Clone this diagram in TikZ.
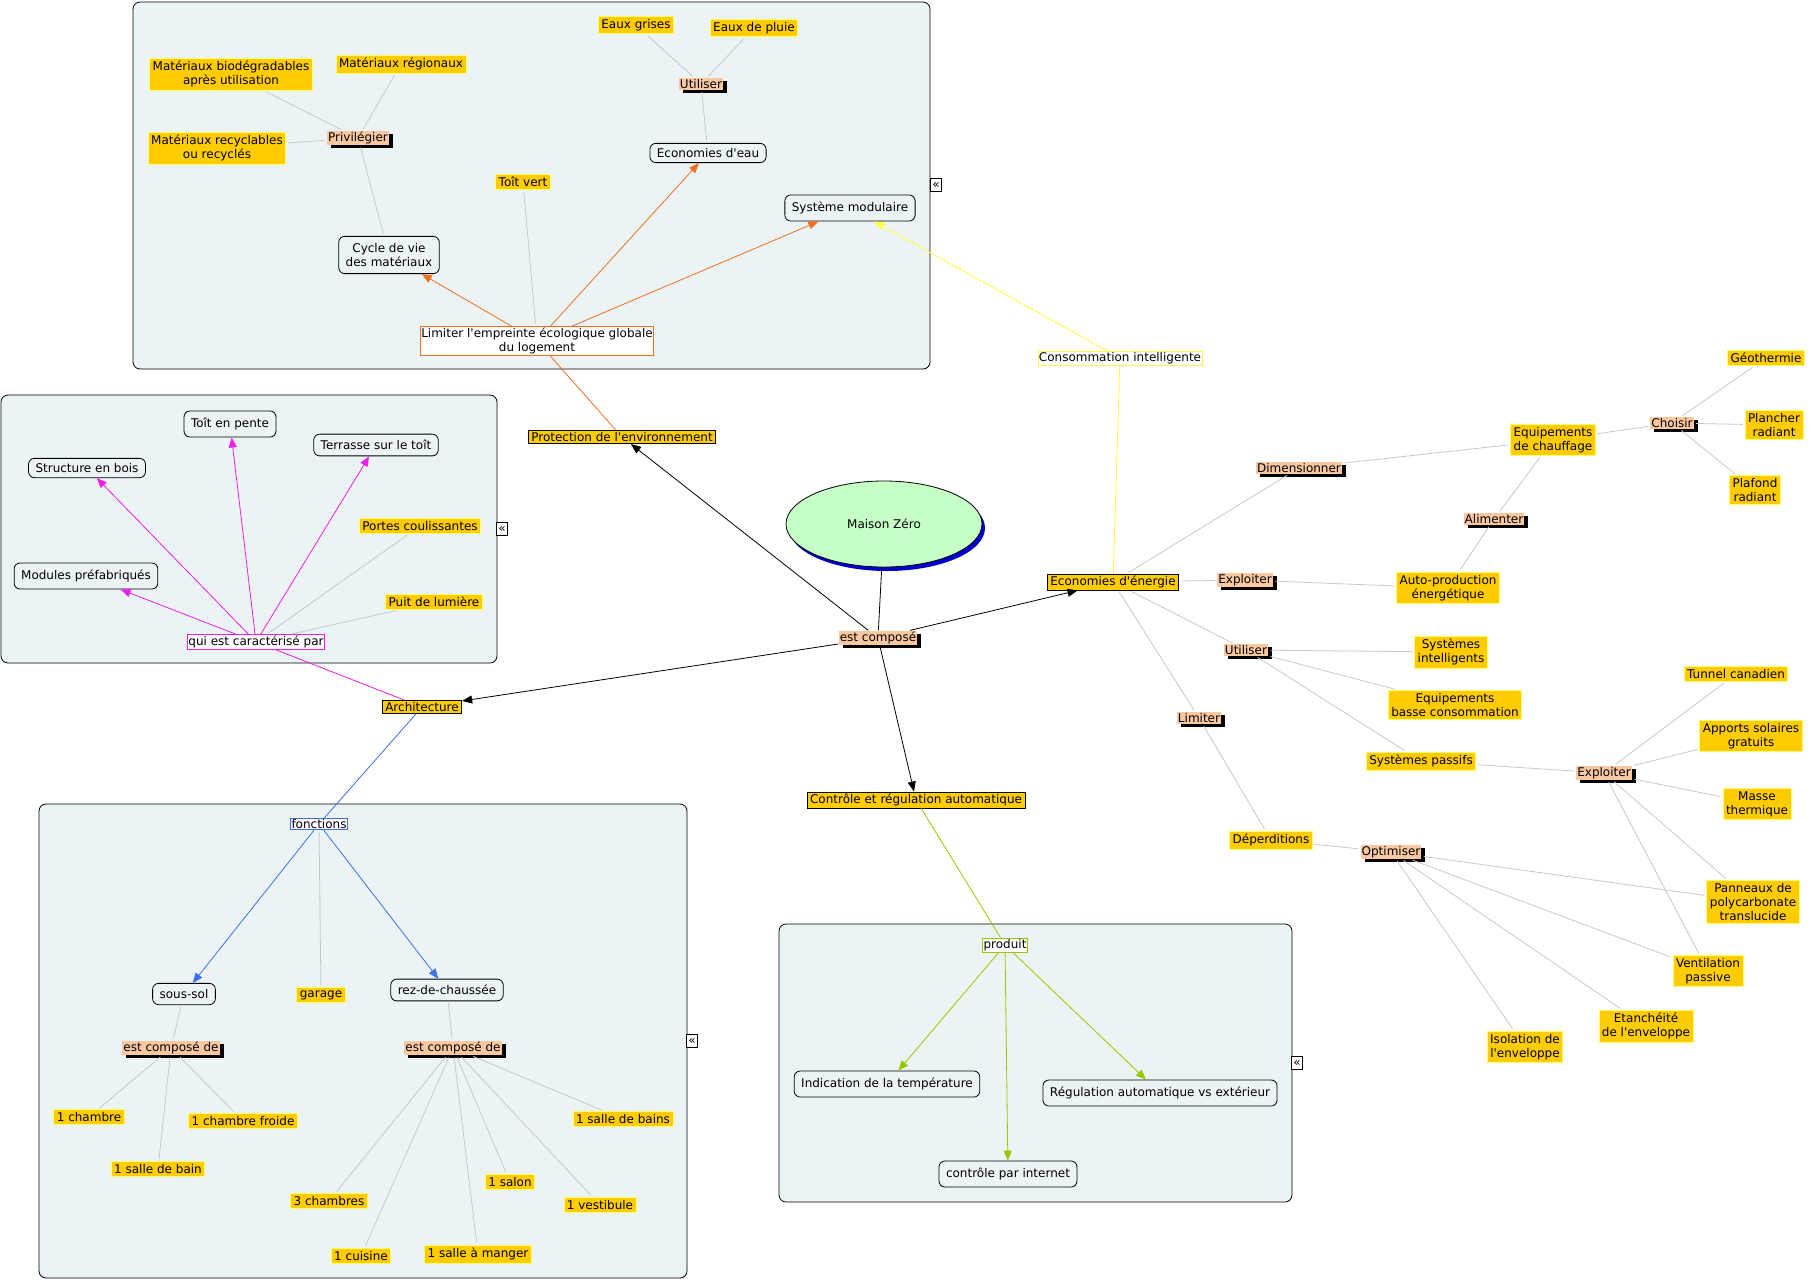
\documentclass[tikz,border=0pt]{standalone}
\usepackage{fontspec}
\setmainfont{DejaVu Sans}[Ligatures=TeXOff]
\usetikzlibrary{shapes.geometric,arrows.meta,shadows}

\definecolor{gold}{RGB}{255,204,0}
\definecolor{paleyel}{RGB}{255,255,110}
\definecolor{peach}{RGB}{250,200,160}
\definecolor{panelc}{RGB}{236,243,245}
\definecolor{twigc}{RGB}{200,200,200}
\definecolor{envorange}{RGB}{240,110,30}
\definecolor{archmag}{RGB}{235,30,235}
\definecolor{fctblue}{RGB}{60,110,240}
\definecolor{consoyel}{RGB}{255,255,60}
\definecolor{prodgreen}{RGB}{150,200,0}
\definecolor{ovalfill}{RGB}{198,255,198}
\definecolor{ovalshadow}{RGB}{0,0,204}

\begin{document}
\begin{tikzpicture}[x=1pt,y=-1pt,line width=0.8pt,
  font=\fontsize{12}{14}\selectfont,
  >={Triangle[length=10pt,width=8pt]},
  concept/.style={fill=gold,draw=paleyel,inner xsep=3pt,inner ysep=3pt,align=center},
  keyconcept/.style={concept,draw=black,inner ysep=2pt},
  topic/.style={draw=black,fill=panelc,rounded corners=6pt,inner xsep=7pt,inner ysep=7pt,align=center},
  linking/.style={fill=peach,inner xsep=1pt,inner ysep=1.2pt,
    drop shadow={shadow xshift=4pt,shadow yshift=-3pt,fill=black,opacity=1}},
  linkword/.style={draw=#1,fill=white,inner xsep=1pt,inner ysep=1.2pt,align=center},
  panel/.style={draw=black,fill=panelc,rounded corners=7pt},
  collapse/.style={draw=black,fill=white,inner sep=0pt,minimum width=11pt,minimum height=13pt,
    font=\fontsize{12}{12}\selectfont},
  twig/.style={twigc,shorten <=2pt,shorten >=2pt}]

\fill[white] (0,0) rectangle (1809,1280);
\useasboundingbox (0,0) rectangle (1809,1280);

\draw[panel] (133,2) rectangle (930,369);
\draw[panel] (1,395) rectangle (497,663);
\draw[panel] (39,804) rectangle (687,1278);
\draw[panel] (779,924) rectangle (1292,1202);

\node[collapse] at (936,185) (coltop) {«};
\node[collapse] at (502,529) (colarch) {«};
\node[collapse] at (692,1041) (colfct) {«};
\node[collapse] at (1297,1063) (colprod) {«};

\node[ellipse,fill=ovalfill,draw=black,minimum width=196pt,minimum height=86pt,
  drop shadow={shadow xshift=3pt,shadow yshift=-4pt,fill=ovalshadow,opacity=1}]
  at (884,524) (maison) {Maison Zéro};
\node[linking] at (878,638) (estcompose) {est composé};

\node[keyconcept] at (622,437) (protection) {Protection de l'environnement};
\node[keyconcept] at (422,707) (architecture) {Architecture};
\node[keyconcept] at (1113,582) (energie) {Economies d'énergie};
\node[keyconcept] at (916,800) (controle) {Contrôle et régulation automatique};

\node[linkword=envorange] at (537,341) (limiter) {Limiter l'empreinte écologique globale\\du logement};
\node[topic] at (389,255) (cycle) {Cycle de vie\\des matériaux};
\node[topic,inner ysep=5pt] at (708,153) (ecoeau) {Economies d'eau};
\node[topic] at (850,208) (modulaire) {Système modulaire};
\node[concept] at (523,182) (toitvert) {Toît vert};
\node[linking] at (358,138) (privilegier) {Privilégier};
\node[concept] at (231,74) (biodeg) {Matériaux biodégradables\\après utilisation};
\node[concept] at (401,64) (regionaux) {Matériaux régionaux};
\node[concept] at (217,148) (recycl) {Matériaux recyclables\\ou recyclés};
\node[linking] at (701,84) (utileau) {Utiliser};
\node[concept] at (636,25) (grises) {Eaux grises};
\node[concept] at (754,28) (pluie) {Eaux de pluie};
\node[linkword=consoyel] at (1120,358) (conso) {Consommation intelligente};

\node[linkword=archmag] at (256,642) (caract) {qui est caractérisé par};
\node[topic,inner ysep=5pt] at (87,468) (structure) {Structure en bois};
\node[topic] at (230,424) (toitpente) {Toît en pente};
\node[topic,inner ysep=6pt] at (376,445) (terrasse) {Terrasse sur le toît};
\node[topic] at (86,576) (modules) {Modules préfabriqués};
\node[concept] at (420,526) (portes) {Portes coulissantes};
\node[concept] at (434,602) (puit) {Puit de lumière};

\node[linkword=fctblue] at (319,824) (fonctions) {fonctions};
\node[topic,inner ysep=6pt] at (184,994) (soussol) {sous-sol};
\node[concept] at (321,995) (garage) {garage};
\node[topic,inner ysep=6pt] at (447,990) (rdc) {rez-de-chaussée};
\node[linking] at (171,1048) (compose1) {est composé de};
\node[linking] at (453,1048) (compose2) {est composé de};
\node[concept] at (89,1117) (chambre) {1 chambre};
\node[concept] at (243,1121) (froide) {1 chambre froide};
\node[concept] at (158,1169) (sallebain) {1 salle de bain};
\node[concept] at (623,1119) (sallebains) {1 salle de bains};
\node[concept] at (329,1201) (chambres) {3 chambres};
\node[concept] at (510,1182) (salon) {1 salon};
\node[concept] at (600,1205) (vestibule) {1 vestibule};
\node[concept] at (361,1256) (cuisine) {1 cuisine};
\node[concept] at (478,1254) (manger) {1 salle à manger};

\node[linkword=prodgreen] at (1005,945) (produit) {produit};
\node[topic] at (887,1084) (indication) {Indication de la température};
\node[topic] at (1160,1093) (regulation) {Régulation automatique vs extérieur};
\node[topic] at (1008,1174) (internet) {contrôle par internet};

\node[linking] at (1299,468) (dimensionner) {Dimensionner};
\node[concept] at (1553,440) (chauffage) {Equipements\\de chauffage};
\node[linking] at (1672,423) (choisir) {Choisir};
\node[concept] at (1766,358) (geothermie) {Géothermie};
\node[concept] at (1774,425) (plancher) {Plancher\\radiant};
\node[concept] at (1755,490) (plafond) {Plafond\\radiant};
\node[linking] at (1494,519) (alimenter) {Alimenter};
\node[linking] at (1245,580) (exploitera) {Exploiter};
\node[concept] at (1448,588) (autoprod) {Auto-production\\énergétique};
\node[linking] at (1246,650) (utiliserb) {Utiliser};
\node[concept] at (1451,652) (intelligents) {Systèmes\\intelligents};
\node[concept] at (1455,705) (basseconso) {Equipements\\basse consommation};
\node[linking] at (1199,718) (limiterb) {Limiter};
\node[concept] at (1421,761) (passifs) {Systèmes passifs};
\node[linking] at (1604,773) (exploiterb) {Exploiter};
\node[concept] at (1736,674) (tunnel) {Tunnel canadien};
\node[concept] at (1751,736) (apports) {Apports solaires\\gratuits};
\node[concept] at (1757,804) (masse) {Masse\\thermique};
\node[concept] at (1271,840) (deperditions) {Déperditions};
\node[linking] at (1391,852) (optimiser) {Optimiser};
\node[concept] at (1753,902) (panneaux) {Panneaux de\\polycarbonate\\translucide};
\node[concept] at (1708,971) (ventilation) {Ventilation\\passive};
\node[concept] at (1646,1026) (etancheite) {Etanchéité\\de l'enveloppe};
\node[concept] at (1525,1047) (isolation) {Isolation de\\l'enveloppe};

\draw (maison) -- (estcompose);
\draw[->] (estcompose) -- (protection);
\draw[->] (estcompose) -- (architecture);
\draw[->] (estcompose) -- (energie);
\draw[->] (estcompose) -- (controle);

\draw[envorange] (protection) -- (limiter);
\draw[->,envorange] (limiter) -- (cycle);
\draw[->,envorange] (limiter) -- (ecoeau);
\draw[->,envorange] (limiter) -- (modulaire);
\draw[twig] (toitvert) -- (limiter);
\draw[twig] (cycle) -- (privilegier);
\draw[twig] (privilegier) -- (biodeg);
\draw[twig] (privilegier) -- (regionaux);
\draw[twig] (privilegier) -- (recycl);
\draw[twig] (ecoeau) -- (utileau);
\draw[twig] (utileau) -- (grises);
\draw[twig] (utileau) -- (pluie);
\draw[consoyel] (energie) -- (conso);
\draw[->,consoyel] (conso) -- (modulaire);

\draw[archmag] (architecture) -- (caract);
\draw[->,archmag] (caract) -- (structure);
\draw[->,archmag] (caract) -- (toitpente);
\draw[->,archmag] (caract) -- (terrasse);
\draw[->,archmag] (caract) -- (modules);
\draw[twig] (caract) -- (portes);
\draw[twig] (caract) -- (puit);

\draw[fctblue] (architecture) -- (fonctions);
\draw[->,fctblue] (fonctions) -- (soussol);
\draw[->,fctblue] (fonctions) -- (rdc);
\draw[twig] (fonctions) -- (garage);
\draw[twig] (soussol) -- (compose1);
\draw[twig] (compose1) -- (chambre);
\draw[twig] (compose1) -- (sallebain);
\draw[twig] (compose1) -- (froide);
\draw[twig] (rdc) -- (compose2);
\draw[twig] (compose2) -- (chambres);
\draw[twig] (compose2) -- (cuisine);
\draw[twig] (compose2) -- (manger);
\draw[twig] (compose2) -- (salon);
\draw[twig] (compose2) -- (vestibule);
\draw[twig] (compose2) -- (sallebains);

\draw[prodgreen] (controle) -- (produit);
\draw[->,prodgreen] (produit) -- (indication);
\draw[->,prodgreen] (produit) -- (internet);
\draw[->,prodgreen] (produit) -- (regulation);

\draw[twig] (energie) -- (dimensionner);
\draw[twig] (dimensionner) -- (chauffage);
\draw[twig] (chauffage) -- (choisir);
\draw[twig] (choisir) -- (geothermie);
\draw[twig] (choisir) -- (plancher);
\draw[twig] (choisir) -- (plafond);
\draw[twig] (energie) -- (exploitera);
\draw[twig] (exploitera) -- (autoprod);
\draw[twig] (autoprod) -- (alimenter);
\draw[twig] (alimenter) -- (chauffage);
\draw[twig] (energie) -- (utiliserb);
\draw[twig] (utiliserb) -- (intelligents);
\draw[twig] (utiliserb) -- (basseconso);
\draw[twig] (utiliserb) -- (passifs);
\draw[twig] (passifs) -- (exploiterb);
\draw[twig] (exploiterb) -- (tunnel);
\draw[twig] (exploiterb) -- (apports);
\draw[twig] (exploiterb) -- (masse);
\draw[twig] (exploiterb) -- (panneaux);
\draw[twig] (exploiterb) -- (ventilation);
\draw[twig] (energie) -- (limiterb);
\draw[twig] (limiterb) -- (deperditions);
\draw[twig] (deperditions) -- (optimiser);
\draw[twig] (optimiser) -- (panneaux);
\draw[twig] (optimiser) -- (ventilation);
\draw[twig] (optimiser) -- (etancheite);
\draw[twig] (optimiser) -- (isolation);
\end{tikzpicture}
\end{document}
